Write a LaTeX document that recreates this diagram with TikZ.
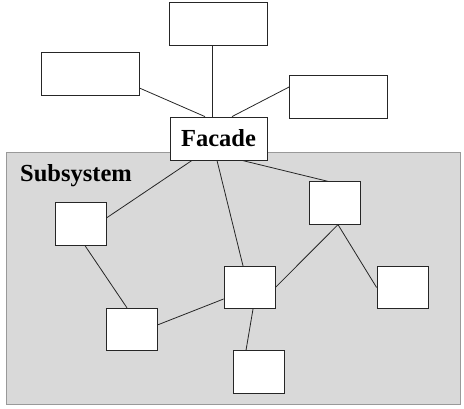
\documentclass[tikz,border=0pt]{standalone}
\usepackage{fontspec}
\setmainfont{Liberation Serif}
\begin{document}
\begin{tikzpicture}[x=1pt,y=-1pt,
  box/.style={draw=black!85, fill=white, line width=0.8pt, rectangle, inner sep=0pt},
  wide/.style={box, minimum width=98pt, minimum height=43pt},
  small/.style={box, minimum width=51pt, minimum height=42.5pt},
  link/.style={draw=black!85, line width=0.8pt},
  lbl/.style={font=\bfseries\fontsize{24.5}{28}\selectfont}]
\useasboundingbox (0,0) rectangle (464,409);
\node[draw=black!40, fill=black!15, line width=0.9pt, rectangle, inner sep=0pt,
      minimum width=454pt, minimum height=252pt] (sub) at (233,278) {};
\node[lbl, anchor=base west, inner sep=0pt] (sublbl) at (20,182) {Subsystem};
\node[wide] (top) at (218,24) {};
\node[wide] (left) at (90,73.5) {};
\node[wide] (right) at (338.5,96.5) {};
\node[box, lbl, minimum width=97pt, minimum height=43pt] (fac) at (218.5,138.5) {Facade};
\node[small] (a) at (80.5,224) {};
\node[small] (b) at (334.5,203) {};
\node[small] (c) at (249.5,287.5) {};
\node[small] (d) at (402.5,287.5) {};
\node[small] (e) at (131.5,329.5) {};
\node[small] (f) at (258.5,372) {};
\draw[link] ([xshift=-6pt]top.south) -- ([xshift=-6.5pt]fac.north);
\draw[link] ([yshift=-14.5pt]left.east) -- ([xshift=-13.5pt]fac.north);
\draw[link] ([yshift=9.5pt]right.west) -- ([xshift=13.5pt]fac.north);
\draw[link] ([xshift=-26.5pt]fac.south) -- ([yshift=6pt]a.east);
\draw[link] ([xshift=-1.5pt]fac.south) -- ([xshift=-6.5pt]c.north);
\draw[link] ([xshift=23.5pt]fac.south) -- ([xshift=-6.5pt]b.north);
\draw[link] ([xshift=4.5pt]a.south) -- ([xshift=-4.5pt]e.north);
\draw[link] ([yshift=4.5pt]e.east) -- ([yshift=-11.5pt]c.west);
\draw[link] (c.east) -- ([xshift=3.5pt]b.south);
\draw[link] ([xshift=3.5pt]b.south) -- (d.west);
\draw[link] ([xshift=3.5pt]c.south) -- ([xshift=-12.5pt]f.north);
\end{tikzpicture}
\end{document}
